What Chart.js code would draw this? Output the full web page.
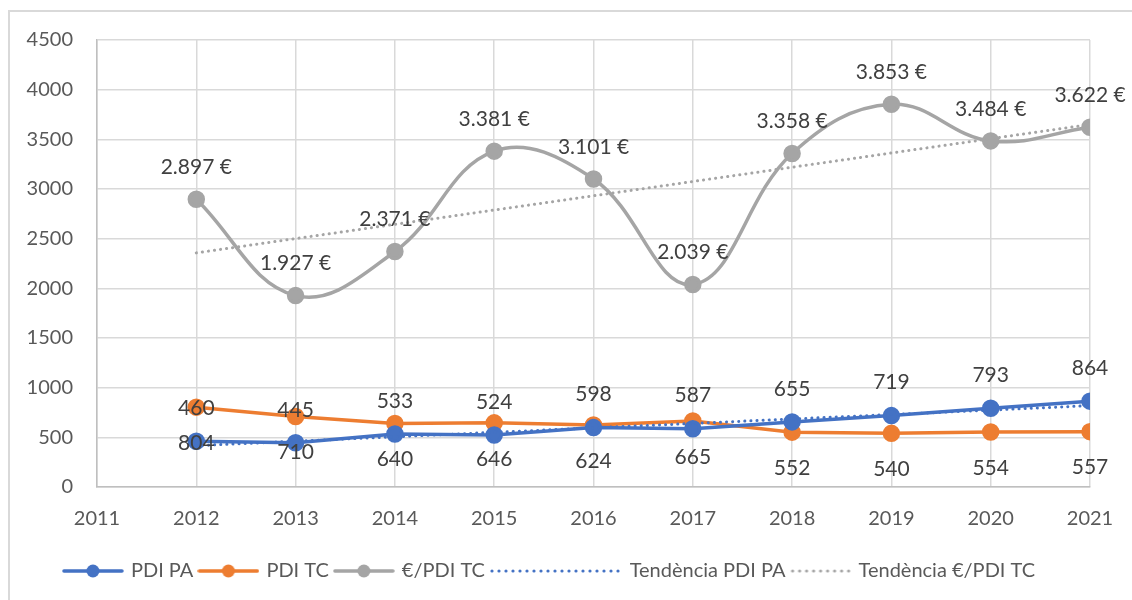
<!DOCTYPE html>
<html>
<head>
<meta charset="utf-8">
<script src="https://cdn.jsdelivr.net/npm/chart.js@4"></script>
<style>
  body { margin: 0; background: #fff; }
  #wrap { position: absolute; left: 8px; top: 10px; width: 1130px; height: 600px; border: 2px solid #d9d9d9; box-sizing: border-box; }
  #myChart { position: absolute; left: 0; top: 0; }
</style>
</head>
<body>
<div id="wrap"><canvas id="myChart" width="1126" height="588"></canvas></div>
<script>
const anys = [2012, 2013, 2014, 2015, 2016, 2017, 2018, 2019, 2020, 2021];
const pdiPA = [460, 445, 533, 524, 598, 587, 655, 719, 793, 864];
const pdiTC = [804, 710, 640, 646, 624, 665, 552, 540, 554, 557];
const euroPdiTC = [2897, 1927, 2371, 3381, 3101, 2039, 3358, 3853, 3484, 3622];
// extrems de les línies de tendència (llegits del gràfic)
const tendAnys = [2012, 2021];
const tendPA = [416, 819];
const tendEuro = [2357, 3650];

const blau = '#4472C4', taronja = '#ED7D31', gris = '#A5A5A5';
const fontTxt = 'Lato, "Open Sans", sans-serif';

function punts(xs, ys) { return xs.map((x, i) => ({ x: x, y: ys[i] })); }

// caixa de la llegenda: 56 px; la imatge es centra sobre la caixa
function marcaLinia(color) {
  const c = document.createElement('canvas');
  c.width = 62; c.height = 16;
  const g = c.getContext('2d');
  g.strokeStyle = color; g.lineWidth = 3.5; g.lineCap = 'round';
  g.beginPath(); g.moveTo(2, 8); g.lineTo(60, 8); g.stroke();
  g.fillStyle = color;
  g.beginPath(); g.arc(31, 8, 6.5, 0, Math.PI * 2); g.fill();
  return c;
}
function marcaPunts(color, llarg) {
  // llarg: longitud de la línia de punts a partir de l'inici de la caixa
  const mig = Math.max(31, llarg - 28);
  const c = document.createElement('canvas');
  c.width = mig * 2; c.height = 16;
  const g = c.getContext('2d');
  g.fillStyle = color;
  const x0 = mig - 28 - 3;
  for (let x = x0 + 3; x < x0 + llarg; x += 7) { g.beginPath(); g.arc(x, 8, 1.6, 0, Math.PI * 2); g.fill(); }
  return c;
}
const marques = [marcaLinia(blau), marcaLinia(taronja), marcaLinia(gris), marcaPunts(blau, 136), marcaPunts(gris, 62)];
const prefix = ['', '', '', '              ', ''];

const etiquetes = {
  id: 'etiquetes',
  afterDatasetsDraw(chart) {
    const ctx = chart.ctx;
    ctx.save();
    ctx.font = '21px ' + fontTxt;
    ctx.fillStyle = '#404040';
    ctx.textAlign = 'center';
    ctx.textBaseline = 'middle';
    const conf = [
      { ds: 0, dy: -33, fmt: v => String(v) },
      { ds: 1, dy: 36, fmt: v => String(v) },
      { ds: 2, dy: -32, fmt: v => v.toLocaleString('de-DE') + ' €' }
    ];
    conf.forEach(c => {
      const meta = chart.getDatasetMeta(c.ds);
      meta.data.forEach((p, i) => {
        ctx.fillText(c.fmt(chart.data.datasets[c.ds].data[i].y), p.x, p.y + c.dy);
      });
    });
    ctx.restore();
  }
};

const ctx = document.getElementById('myChart');
new Chart(ctx, {
  type: 'line',
  data: {
    datasets: [
      { label: 'PDI PA', data: punts(anys, pdiPA), borderColor: blau, backgroundColor: blau, borderWidth: 3.5, pointRadius: 7, pointHoverRadius: 7, order: 2 },
      { label: 'PDI TC', data: punts(anys, pdiTC), borderColor: taronja, backgroundColor: taronja, borderWidth: 3.5, pointRadius: 7, pointHoverRadius: 7, order: 3 },
      { label: '€/PDI TC', data: punts(anys, euroPdiTC), borderColor: gris, backgroundColor: gris, borderWidth: 3.5, pointRadius: 7, pointHoverRadius: 7, tension: 0.4, order: 4 },
      { label: 'Tendència PDI PA', data: punts(tendAnys, tendPA), borderColor: blau, borderWidth: 3, borderDash: [0.1, 6], borderCapStyle: 'round', pointRadius: 0, order: 0 },
      { label: 'Tendència €/PDI TC', data: punts(tendAnys, tendEuro), borderColor: gris, borderWidth: 3, borderDash: [0.1, 6], borderCapStyle: 'round', pointRadius: 0, order: 1 }
    ]
  },
  options: {
    responsive: false,
    animation: false,
    layout: { padding: { top: 28, right: 46, left: 0, bottom: 9 } },
    scales: {
      x: {
        type: 'linear', min: 2011, max: 2021,
        ticks: { stepSize: 1, callback: v => String(v), color: '#595959', font: { family: fontTxt, size: 20 }, padding: 20, maxRotation: 0 },
        grid: { color: '#d9d9d9', lineWidth: 1.5, drawTicks: false },
        border: { color: '#bfbfbf', width: 1.5 },
        afterFit: s => { s.height = 67; }
      },
      y: {
        min: 0, max: 4500,
        ticks: { stepSize: 500, callback: v => String(v), color: '#595959', font: { family: fontTxt, size: 20 }, padding: 24 },
        grid: { color: '#d9d9d9', lineWidth: 1.5, drawTicks: false },
        border: { color: '#bfbfbf', width: 1.5 },
        afterFit: s => { s.width = 87; s.paddingTop = 0; s.paddingBottom = 0; }
      }
    },
    plugins: {
      tooltip: { enabled: false },
      legend: {
        position: 'bottom',
        labels: {
          usePointStyle: true,
          pointStyleWidth: 56,
          boxHeight: 16,
          padding: 7,
          color: '#595959',
          font: { family: fontTxt, size: 20 },
          sort: (a, b) => a.datasetIndex - b.datasetIndex,
          generateLabels: chart => Chart.defaults.plugins.legend.labels.generateLabels(chart).map(it => Object.assign(it, { pointStyle: marques[it.datasetIndex], text: prefix[it.datasetIndex] + it.text }))
        }
      }
    }
  },
  plugins: [etiquetes]
});
</script>
</body>
</html>
